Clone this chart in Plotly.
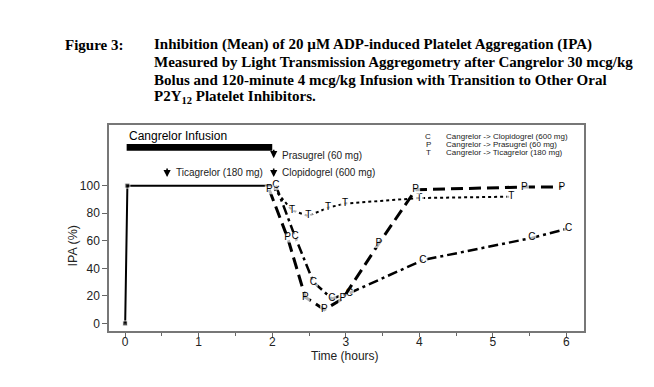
import plotly.graph_objects as go

# ---- data ----
cang_t = [0, 0.03, 2.0]
cang_ipa = [0, 100, 100]

pras_t = [1.96, 2.21, 2.45, 2.71, 2.96, 3.45, 3.95, 5.43, 5.94]
pras_ipa = [97, 62, 19, 10, 18, 58, 97, 99, 99]

clop_t = [2.05, 2.31, 2.56, 2.81, 3.05, 4.05, 5.53, 6.03]
clop_ipa = [100, 63, 30, 18, 22, 46, 62, 69]

tica_t = [2.02, 2.27, 2.49, 2.76, 2.99, 4.0, 5.25]
tica_ipa = [98, 82, 78, 84, 87, 91, 92]

x_ticks = [0, 1, 2, 3, 4, 5, 6]
y_ticks = [0, 20, 40, 60, 80, 100]

legend_sym = ["C", "P", "T"]
legend_txt = ["Cangrelor -> Clopidogrel (600 mg)",
              "Cangrelor -> Prasugrel (60 mg)",
              "Cangrelor -> Ticagrelor (180 mg)"]

# page body has an 8px margin; work in reference pixels and shift
OFF = 8
W, H = 654 - OFF, 387 - OFF
L, R, T, B = 109 - OFF, 584 - OFF, 125 - OFF, 331 - OFF
PW, PH = R - L, B - T


def px(xp):
    return (xp - OFF - L) / PW


def py(yp):
    return (B - (yp - OFF)) / PH


SANS = "Liberation Sans, Arial, sans-serif"
SERIF = "Liberation Serif, Times New Roman, serif"

fig = go.Figure()

fig.add_trace(go.Scatter(
    x=cang_t, y=cang_ipa, mode="lines+markers",
    line=dict(color="black", width=2),
    marker=dict(symbol="square", size=[5, 5, 0], color="black"),
    showlegend=False, hoverinfo="skip"))


def letter_trace(t, v, letter, dash, width, skip_first_label=False):
    labels = [letter] * len(t)
    sizes = [9] * len(t)
    if skip_first_label:
        labels[0] = ""
        sizes[0] = 0
    return go.Scatter(
        x=t, y=v, mode="lines+markers+text", text=labels,
        textposition="middle center",
        textfont=dict(family=SANS, size=10, color="black"),
        line=dict(color="black", width=width, dash=dash),
        marker=dict(symbol="square", size=sizes, color="white",
                    line=dict(width=0)),
        showlegend=False, hoverinfo="skip")


fig.add_trace(letter_trace(tica_t, tica_ipa, "T", "3px,3px", 2, True))
fig.add_trace(letter_trace(clop_t, clop_ipa, "C", "10px,4px,3px,4px", 2.5))
fig.add_trace(letter_trace(pras_t, pras_ipa, "P", "12px,6px", 3))

# infusion bar
fig.add_shape(type="rect", x0=0.02, x1=2.0, y0=125.4, y1=130.3,
              fillcolor="black", line=dict(width=0), xref="x", yref="y")

ann = []
ann.append(dict(x=0.02, y=136.3, xref="x", yref="y", text="Cangrelor Infusion",
                showarrow=False, xanchor="left", yanchor="middle",
                font=dict(family=SANS, size=12, color="black")))

# dose arrows: (arrow x, arrow tip y, label y, label)
for xa, tip, ly, label in [(0.57, 106.2, 109.6, "Ticagrelor (180 mg)"),
                           (2.02, 119.9, 121.8, "Prasugrel (60 mg)"),
                           (2.02, 106.2, 109.6, "Clopidogrel (600 mg)")]:
    ann.append(dict(x=xa, y=tip, xref="x", yref="y", ax=0, ay=-10,
                    text="", showarrow=True, arrowhead=2, arrowsize=0.9,
                    arrowwidth=1.6, arrowcolor="black"))
    ann.append(dict(x=xa + 0.09, y=ly, xref="x", yref="y", text=label,
                    showarrow=False, xanchor="left", yanchor="middle",
                    font=dict(family=SANS, size=10, color="#222")))

# legend text
for i, (s, tx) in enumerate(zip(legend_sym, legend_txt)):
    yy = py(136 + i * 8.1)
    ann.append(dict(x=px(428), y=yy, xref="paper", yref="paper", text=s,
                    showarrow=False, xanchor="center", yanchor="middle",
                    font=dict(family=SANS, size=8, color="#222")))
    ann.append(dict(x=px(444), y=yy, xref="paper", yref="paper", text=tx,
                    showarrow=False, xanchor="left", yanchor="middle",
                    font=dict(family=SANS, size=8, color="#222")))

# axis titles
ann.append(dict(x=px(345), y=py(355.5), xref="paper", yref="paper",
                text="Time (hours)", showarrow=False, xanchor="center",
                yanchor="middle", font=dict(family=SANS, size=12, color="#222")))
ann.append(dict(x=px(72), y=py(246.5), xref="paper", yref="paper",
                text="IPA (%)", showarrow=False, xanchor="center", textangle=-90,
                yanchor="middle", font=dict(family=SANS, size=12.5, color="#222")))

# title
ann.append(dict(x=px(63), y=py(45), xref="paper", yref="paper",
                text="<b>Figure 3:</b>", showarrow=False, xanchor="left",
                yanchor="middle", font=dict(family=SERIF, size=15, color="black")))
title_lines = [
    "Inhibition (Mean) of 20 \u00b5M ADP-induced Platelet Aggregation (IPA)",
    "Measured by Light Transmission Aggregometry after Cangrelor 30 mcg/kg",
    "Bolus and 120-minute 4 mcg/kg Infusion with Transition to Other Oral",
    "P2Y<sub>12</sub> Platelet Inhibitors.",
]
for i, line in enumerate(title_lines):
    ann.append(dict(x=px(152), y=py(45 + i * 17.3), xref="paper", yref="paper",
                    text="<b>" + line + "</b>", showarrow=False,
                    xanchor="left", yanchor="middle",
                    font=dict(family=SERIF, size=15, color="black")))

fig.update_layout(
    width=W, height=H,
    margin=dict(l=L, r=W - R, t=T, b=H - B, autoexpand=False),
    paper_bgcolor="white", plot_bgcolor="white",
    annotations=ann,
    xaxis=dict(range=[-0.22, 6.24], tickvals=x_ticks, ticks="outside",
               ticklen=4, tickwidth=1, tickcolor="#666",
               ticklabelstandoff=-5,
               showgrid=False, zeroline=False, showline=True,
               linecolor="#777", linewidth=1.5, mirror=True,
               tickfont=dict(family=SANS, size=12, color="#222"),
               minor=dict(tickvals=[0.5, 1.5, 2.5, 3.5, 4.5, 5.5],
                          ticks="outside", ticklen=3, tickcolor="#666")),
    yaxis=dict(range=[-5.5, 144], tickvals=y_ticks, ticks="outside",
               ticklen=5, tickwidth=1, tickcolor="#666",
               showgrid=False, zeroline=False, showline=True,
               linecolor="#777", linewidth=1.5, mirror=True,
               tickfont=dict(family=SANS, size=12, color="#222")),
)

fig.write_html("out.html")
